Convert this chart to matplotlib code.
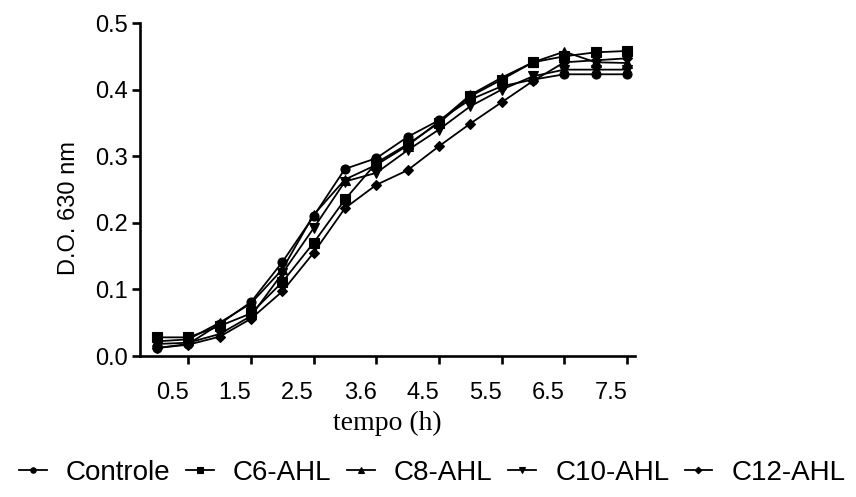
import matplotlib
matplotlib.use("Agg")
import matplotlib.pyplot as plt
import matplotlib.transforms as mtransforms

tempo = [0, 0.5, 1, 1.5, 2, 2.5, 3, 3.5, 4, 4.5, 5, 5.5, 6, 6.5, 7, 7.5]
controle = [0.012, 0.018, 0.048, 0.081, 0.141, 0.210, 0.281, 0.297, 0.329, 0.354, 0.385, 0.405, 0.415, 0.423, 0.423, 0.423]
c6_ahl = [0.028, 0.028, 0.045, 0.064, 0.111, 0.170, 0.235, 0.290, 0.318, 0.350, 0.390, 0.415, 0.441, 0.450, 0.456, 0.458]
c8_ahl = [0.022, 0.025, 0.050, 0.079, 0.130, 0.212, 0.265, 0.287, 0.316, 0.352, 0.392, 0.418, 0.441, 0.457, 0.441, 0.440]
c10_ahl = [0.018, 0.020, 0.033, 0.060, 0.124, 0.192, 0.262, 0.275, 0.309, 0.340, 0.375, 0.400, 0.420, 0.430, 0.430, 0.430]
c12_ahl = [0.012, 0.017, 0.029, 0.056, 0.097, 0.155, 0.222, 0.257, 0.279, 0.315, 0.349, 0.381, 0.413, 0.441, 0.444, 0.447]

series_names = ["Controle", "C6-AHL", "C8-AHL", "C10-AHL", "C12-AHL"]
series_values = [controle, c6_ahl, c8_ahl, c10_ahl, c12_ahl]
markers = ["o", "s", "^", "v", "D"]

xtick_pos = [0.5, 1.5, 2.5, 3.5, 4.5, 5.5, 6.5, 7.5]
xtick_labels = ["0.5", "1.5", "2.5", "3.6", "4.5", "5.5", "6.5", "7.5"]
ytick_pos = [0.0, 0.1, 0.2, 0.3, 0.4, 0.5]

plt.rcParams['font.family'] = ['Liberation Sans', 'DejaVu Sans']

fig = plt.figure(figsize=(8.56, 4.97), dpi=100)
ax = fig.add_axes([0.1636, 0.2837, 0.742 - 0.1636, 0.9537 - 0.2837])

handles = []
for name, vals, m in zip(series_names, series_values, markers):
    ms = 5.5 if m == "D" else 6.5
    h, = ax.plot(tempo, vals, color="black", lw=1.3, marker=m, ms=ms,
                 markeredgewidth=0.8, label=name)
    handles.append(h)

ax.set_xlim(-0.27, 7.63)
ax.set_ylim(0, 0.5)
ax.spines['top'].set_visible(False)
ax.spines['right'].set_visible(False)
for s in ['left', 'bottom']:
    ax.spines[s].set_linewidth(1.9)
ax.tick_params(axis='both', direction='out', length=6, width=1.9, labelsize=17, colors='black')
ax.tick_params(axis='x', pad=13)
ax.tick_params(axis='y', pad=3)
ax.set_xticks(xtick_pos)
ax.set_xticklabels(xtick_labels)
ax.set_yticks(ytick_pos)
ax.set_yticklabels([f"{v:.1f}" for v in ytick_pos])

offset = mtransforms.ScaledTranslation(-0.16, 0, fig.dpi_scale_trans)
for lab in ax.get_xticklabels():
    lab.set_transform(lab.get_transform() + offset)

ax.set_ylabel("D.O. 630 nm", fontsize=17)
ax.yaxis.set_label_coords(-0.121, 0.444)
ax.set_xlabel("tempo (h)", fontsize=20, family=['Liberation Serif', 'DejaVu Serif'], labelpad=5)

fig.legend(handles=handles, loc='center', bbox_to_anchor=(0.505, 0.048), ncol=5,
           frameon=False, fontsize=20, handlelength=1.0, handletextpad=0.7,
           columnspacing=0.55, markerscale=0.6)

fig.savefig("out.png", dpi=100)
